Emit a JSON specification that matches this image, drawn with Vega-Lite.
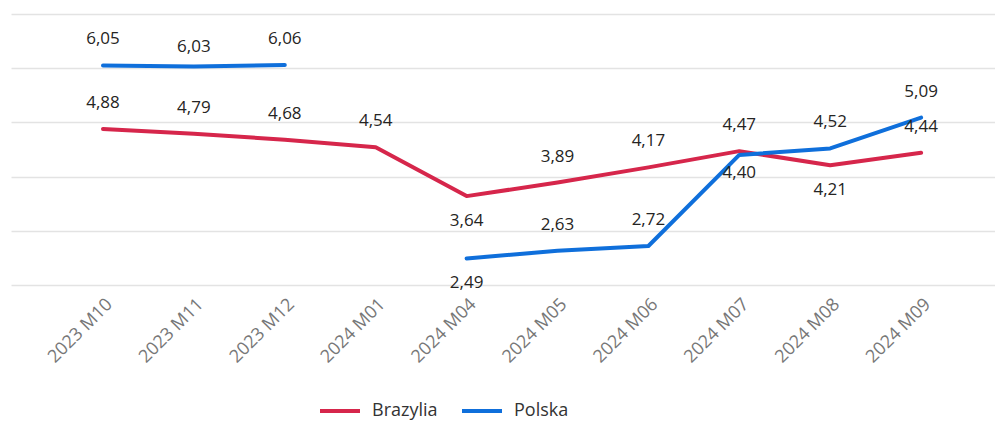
{
  "$schema": "https://vega.github.io/schema/vega-lite/v6.json",
  "width": 984,
  "height": 271,
  "autosize": "none",
  "padding": {"left": 11, "top": 14, "right": 0, "bottom": 136},
  "config": {
    "locale": {"number": {"decimal": ",", "thousands": " ", "grouping": [3], "currency": ["", " zł"]}},
    "view": {"stroke": null},
    "font": "Open Sans"
  },
  "data": {
    "values": [
      {"month": "2023 M10", "country": "Brazylia", "value": 4.88},
      {"month": "2023 M11", "country": "Brazylia", "value": 4.79},
      {"month": "2023 M12", "country": "Brazylia", "value": 4.68},
      {"month": "2024 M01", "country": "Brazylia", "value": 4.54},
      {"month": "2024 M04", "country": "Brazylia", "value": 3.64},
      {"month": "2024 M05", "country": "Brazylia", "value": 3.89},
      {"month": "2024 M06", "country": "Brazylia", "value": 4.17},
      {"month": "2024 M07", "country": "Brazylia", "value": 4.47},
      {"month": "2024 M08", "country": "Brazylia", "value": 4.21},
      {"month": "2024 M09", "country": "Brazylia", "value": 4.44},
      {"month": "2023 M10", "country": "Polska", "value": 6.05},
      {"month": "2023 M11", "country": "Polska", "value": 6.03},
      {"month": "2023 M12", "country": "Polska", "value": 6.06},
      {"month": "2024 M01", "country": "Polska", "value": null},
      {"month": "2024 M04", "country": "Polska", "value": 2.49},
      {"month": "2024 M05", "country": "Polska", "value": 2.63},
      {"month": "2024 M06", "country": "Polska", "value": 2.72},
      {"month": "2024 M07", "country": "Polska", "value": 4.40},
      {"month": "2024 M08", "country": "Polska", "value": 4.52},
      {"month": "2024 M09", "country": "Polska", "value": 5.09}
    ]
  },
  "encoding": {
    "x": {
      "field": "month", "type": "ordinal", "sort": null,
      "scale": {"type": "point", "padding": 0.9125, "align": 0.5546},
      "axis": {"title": null, "labelAngle": -45, "labelFontSize": 18, "labelColor": "#777777", "ticks": false, "domain": false, "grid": false, "labelPadding": 10, "labelFont": "Open Sans"}
    },
    "y": {
      "field": "value", "type": "quantitative",
      "scale": {"domain": [2, 7], "nice": false, "zero": false},
      "axis": {"title": null, "labels": false, "ticks": false, "domain": false, "values": [2, 3, 4, 5, 6, 7], "gridColor": "#E3E3E3", "gridWidth": 1.5}
    }
  },
  "layer": [
    {
      "mark": {"type": "line", "strokeWidth": 4, "strokeCap": "round", "strokeJoin": "round", "invalid": "break-paths-show-domains"},
      "encoding": {
        "color": {
          "field": "country", "type": "nominal",
          "scale": {"domain": ["Brazylia", "Polska"], "range": ["#D6264B", "#0F6FDB"]},
          "legend": {"title": null, "orient": "none", "direction": "horizontal", "legendX": 307, "legendY": 375, "symbolType": "stroke", "symbolSize": 1600, "symbolStrokeWidth": 4, "labelFontSize": 18, "labelColor": "#333333", "labelFont": "Open Sans", "columnPadding": 16, "labelOffset": 10}
        }
      }
    },
    {
      "transform": [
        {"filter": "datum.value != null"},
        {"filter": "!((datum.country == 'Brazylia' && (datum.month == '2024 M04' || datum.month == '2024 M08')) || (datum.country == 'Polska' && (datum.month == '2024 M04' || datum.month == '2024 M07' || datum.month == '2023 M11')))"}
      ],
      "mark": {"type": "text", "dy": -26, "fontSize": 17, "color": "#252423", "baseline": "middle"},
      "encoding": {"text": {"field": "value", "type": "quantitative", "format": ".2f"}}
    },
    {
      "transform": [
        {"filter": "(datum.country == 'Brazylia' && (datum.month == '2024 M04' || datum.month == '2024 M08')) || (datum.country == 'Polska' && datum.month == '2024 M04')"}
      ],
      "mark": {"type": "text", "dy": 25, "fontSize": 17, "color": "#252423", "baseline": "middle"},
      "encoding": {"text": {"field": "value", "type": "quantitative", "format": ".2f"}}
    },
    {
      "transform": [
        {"filter": "datum.country == 'Polska' && datum.month == '2024 M07'"}
      ],
      "mark": {"type": "text", "dy": 18, "fontSize": 17, "color": "#252423", "baseline": "middle"},
      "encoding": {"text": {"field": "value", "type": "quantitative", "format": ".2f"}}
    },
    {
      "transform": [
        {"filter": "datum.country == 'Polska' && datum.month == '2023 M11'"}
      ],
      "mark": {"type": "text", "dy": -20, "fontSize": 17, "color": "#252423", "baseline": "middle"},
      "encoding": {"text": {"field": "value", "type": "quantitative", "format": ".2f"}}
    }
  ]
}
